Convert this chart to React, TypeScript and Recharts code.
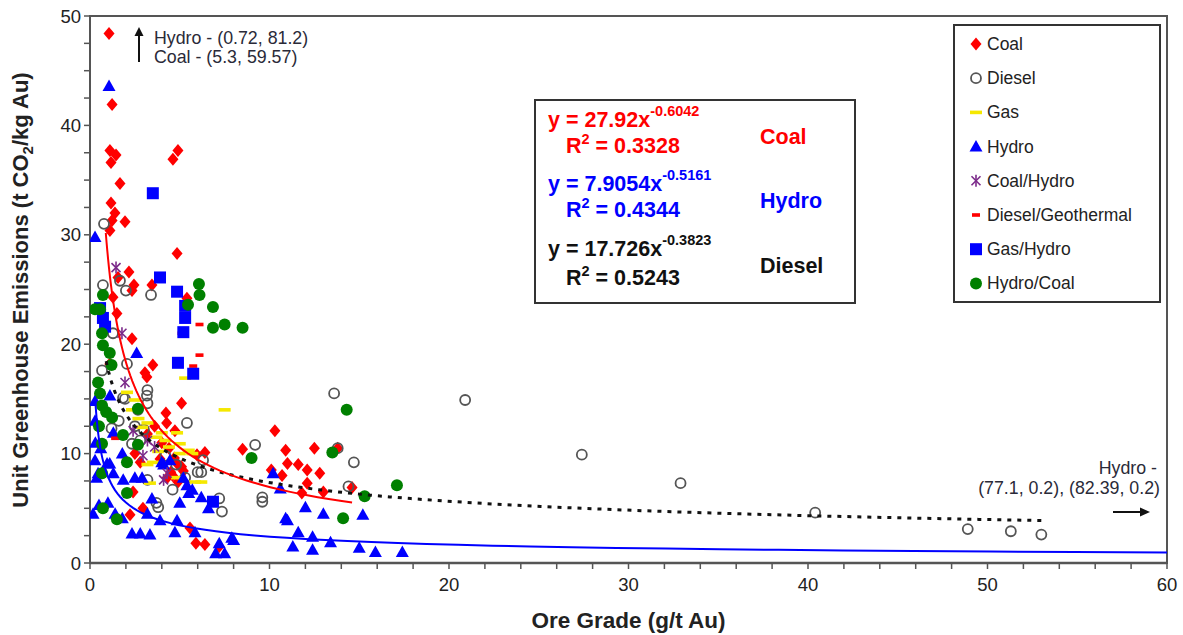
import React from 'react'
import { ScatterChart, Scatter, XAxis, YAxis, ReferenceArea, Label } from 'recharts'

type Pt = [number, number]

// ore grade (g/t Au), unit emissions (t CO2/kg Au)
const coal: Pt[] = [
  [1.06, 48.4], [1.23, 41.9], [1.11, 37.7], [1.45, 37.3], [1.17, 36.6], [1.67, 34.7], [1.17, 32.9],
  [1.39, 32.0], [1.95, 31.2], [1.23, 31.3], [1.11, 30.4], [4.62, 36.9], [4.9, 37.7], [4.85, 28.3],
  [2.17, 26.6], [2.45, 25.4], [2.34, 24.9], [3.45, 25.4], [1.28, 24.3], [5.4, 24.2], [1.56, 26.1],
  [1.5, 22.8], [2.34, 20.5], [1.1, 18.2], [3.06, 17.4], [3.5, 18.1], [3.17, 17.0], [5.1, 14.6],
  [4.23, 13.7], [4.73, 12.1], [4.27, 12.8], [6.4, 10.1], [5.96, 9.9], [2.5, 10.0], [2.23, 4.4],
  [2.95, 5.0], [5.57, 3.2], [5.9, 1.8], [6.4, 1.7], [7.2, 1.5], [8.5, 10.4], [10.3, 12.1],
  [10.9, 10.3], [11.0, 9.1], [10.1, 8.5], [10.7, 8.0], [11.6, 9.0], [12.1, 8.5], [12.5, 10.5],
  [12.8, 8.2], [12.1, 7.3], [11.8, 6.4], [13.0, 6.5], [13.8, 10.5], [14.6, 6.9], [2.4, 6.5],
  [3.6, 12.5], [4.0, 11.0], [4.4, 10.5], [3.2, 11.8], [4.9, 9.0], [5.2, 8.4], [4.6, 8.0],
  [2.8, 9.2], [3.9, 9.5], [4.5, 8.3], [4.9, 7.4], [4.3, 7.8], [5.1, 8.8], [4.7, 9.6],
]

const diesel: Pt[] = [
  [0.78, 31.0], [0.72, 25.4], [1.67, 25.8], [2.0, 24.9], [3.4, 24.5], [0.67, 17.6], [2.06, 18.2],
  [1.28, 21.0], [3.2, 15.8], [1.95, 15.0], [3.2, 14.6], [5.4, 12.8], [2.67, 14.0], [3.17, 15.3],
  [1.84, 15.1], [2.34, 10.9], [6.2, 8.3], [6.3, 9.4], [3.2, 7.6], [4.6, 6.7], [3.8, 5.1],
  [7.2, 5.9], [7.35, 4.7], [9.6, 6.0], [9.6, 5.6], [9.2, 10.8], [13.6, 15.5], [14.7, 9.2],
  [14.4, 7.0], [13.8, 10.5], [2.8, 11.2], [3.7, 5.5], [6.0, 8.3], [20.9, 14.9], [27.4, 9.9],
  [32.9, 7.3], [40.4, 4.6], [48.9, 3.1], [51.3, 2.9], [53.0, 2.6], [3.0, 12.2], [4.2, 9.8],
  [4.8, 9.0], [5.3, 7.8], [2.5, 12.5], [1.6, 13.0], [1.2, 12.3],
]

const gas: Pt[] = [
  [2.06, 15.6], [2.5, 14.9], [2.34, 14.0], [3.2, 12.8], [2.9, 12.4], [4.0, 11.9], [3.7, 11.5],
  [4.2, 11.2], [4.85, 11.9], [5.0, 10.9], [5.5, 10.3], [5.0, 10.0], [5.7, 10.0], [3.5, 9.2],
  [3.2, 9.0], [4.85, 7.8], [5.85, 7.4], [6.2, 7.4], [3.34, 7.3], [5.3, 16.9], [7.5, 14.0],
  [4.4, 10.6], [3.8, 10.2], [2.7, 13.2],
]

const hydro: Pt[] = [
  [1.06, 43.6], [0.28, 29.8], [2.6, 19.2], [1.11, 15.3], [0.28, 13.0], [1.3, 11.9], [0.28, 9.4],
  [0.95, 9.1], [1.8, 10.0], [0.37, 7.8], [1.3, 8.2], [1.85, 7.6], [2.5, 7.8], [2.9, 7.8],
  [0.17, 4.5], [1.4, 4.5], [1.8, 4.1], [2.34, 2.7], [2.8, 2.7], [3.34, 2.6], [3.2, 4.5],
  [3.45, 5.9], [3.9, 3.9], [4.73, 2.8], [4.85, 3.9], [5.85, 2.8], [7.0, 0.9], [7.5, 0.9],
  [7.2, 1.8], [7.9, 2.3], [5.2, 7.8], [5.4, 7.1], [5.5, 6.4], [4.45, 9.4], [4.1, 9.0],
  [0.45, 8.2], [1.1, 9.1], [5.7, 6.7], [4.0, 9.2], [0.28, 14.8], [0.3, 11.0], [0.6, 10.5],
  [0.5, 5.3], [1.0, 5.5], [10.9, 4.1], [10.2, 8.2], [10.6, 6.8], [12.0, 5.1], [13.0, 4.5],
  [11.6, 2.8], [12.4, 2.4], [11.3, 1.5], [12.4, 1.2], [13.4, 1.9], [15.0, 1.4], [15.2, 4.4],
  [15.9, 1.0], [17.4, 1.0], [11.0, 3.9], [8.0, 2.1], [6.6, 5.0], [6.2, 6.0], [5.0, 5.5],
]

const coalHydro: Pt[] = [
  [1.45, 27.0], [1.78, 21.0], [1.95, 16.5], [3.2, 11.2], [2.95, 9.8], [4.1, 7.6], [2.4, 12.1],
  [3.6, 10.6], [4.3, 8.2],
]

const dieselGeo: Pt[] = [[6.1, 21.8], [6.1, 19.0], [5.1, 21.0], [5.75, 18.0], [1.4, 11.4]]

const gasHydro: Pt[] = [
  [3.5, 33.8], [3.9, 26.1], [4.85, 24.8], [0.72, 22.4], [0.56, 23.3], [5.3, 23.5], [5.3, 22.4],
  [5.2, 21.1], [4.9, 18.3], [5.75, 17.3], [6.85, 5.6], [0.84, 21.6],
]

const hydroCoal: Pt[] = [
  [6.07, 25.5], [6.1, 24.5], [0.72, 24.5], [5.46, 23.6], [6.85, 23.4], [0.56, 23.2], [0.28, 23.2],
  [6.85, 21.5], [7.5, 21.8], [8.5, 21.5], [0.67, 21.0], [0.72, 19.9], [1.1, 19.2], [1.2, 18.1],
  [0.45, 16.5], [0.56, 15.5], [0.67, 14.4], [1.23, 13.3], [2.67, 14.1], [1.84, 11.7], [2.67, 10.8],
  [0.67, 10.9], [2.06, 9.2], [0.67, 8.2], [2.06, 6.4], [0.72, 5.0], [1.5, 4.0], [9.0, 9.6],
  [13.5, 10.1], [14.3, 14.0], [14.1, 4.1], [15.3, 6.1], [17.1, 7.1], [0.5, 12.5], [0.9, 13.8],
]

const xTicks = [0, 2, 4, 6, 8, 10, 12, 14, 16, 18, 20, 22, 24, 26, 28, 30, 32, 34, 36, 38, 40, 42, 44, 46, 48, 50, 52, 54, 56, 58, 60]
const yTicks = [0, 2.5, 5, 7.5, 10, 12.5, 15, 17.5, 20, 22.5, 25, 27.5, 30, 32.5, 35, 37.5, 40, 42.5, 45, 47.5, 50]

// power-law trendlines y = a * x^b, with the x span each one covers
const coalFit = { name: 'Coal', a: 27.92, b: -0.6042, r2: 0.3328, from: 0.88, to: 14.6 }
const hydroFit = { name: 'Hydro', a: 7.9054, b: -0.5161, r2: 0.4344, from: 0.28, to: 60 }
const dieselFit = { name: 'Diesel', a: 17.726, b: -0.3823, r2: 0.5243, from: 0.9, to: 53 }

const RED = '#ff0000'
const BLUE = '#0000ff'
const GREEN = '#008000'
const FONT = 'Arial, "Liberation Sans", Helvetica, sans-serif'

const toPoints = (pts: Pt[]) => pts.map(([x, y]) => ({ x, y }))

const fitCurve = (f: typeof coalFit) => {
  const n = 60
  return Array.from({ length: n + 1 }, (_, i) => {
    const x = f.from * Math.pow(f.to / f.from, i / n)
    return { x, y: f.a * Math.pow(x, f.b) }
  })
}

type Mark = (cx: number, cy: number) => React.ReactElement

const coalMark: Mark = (cx, cy) => (
  <path d={`M${cx} ${cy - 6.5}L${cx + 5.5} ${cy}L${cx} ${cy + 6.5}L${cx - 5.5} ${cy}Z`} fill={RED} />
)
const dieselMark: Mark = (cx, cy) => (
  <circle cx={cx} cy={cy} r={5} fill="none" stroke="#555" strokeWidth={1.8} />
)
const gasMark: Mark = (cx, cy) => <rect x={cx - 6} y={cy - 1.8} width={12} height={3.6} fill="#f5e800" />
const hydroMark: Mark = (cx, cy) => (
  <path d={`M${cx} ${cy - 6.5}L${cx + 6.5} ${cy + 5}L${cx - 6.5} ${cy + 5}Z`} fill={BLUE} />
)
const coalHydroMark: Mark = (cx, cy) => (
  <g stroke="#7b2a8a" strokeWidth={1.6}>
    <line x1={cx - 4.5} y1={cy - 4.5} x2={cx + 4.5} y2={cy + 4.5} />
    <line x1={cx - 4.5} y1={cy + 4.5} x2={cx + 4.5} y2={cy - 4.5} />
    <line x1={cx} y1={cy - 6} x2={cx} y2={cy + 6} />
  </g>
)
const dieselGeoMark: Mark = (cx, cy) => <rect x={cx - 4} y={cy - 1.8} width={8} height={3.6} fill={RED} />
const gasHydroMark: Mark = (cx, cy) => <rect x={cx - 6} y={cy - 6} width={12} height={12} fill={BLUE} />
const hydroCoalMark: Mark = (cx, cy) => <circle cx={cx} cy={cy} r={6} fill={GREEN} />

const series: { name: string; data: Pt[]; mark: Mark }[] = [
  { name: 'Coal', data: coal, mark: coalMark },
  { name: 'Diesel', data: diesel, mark: dieselMark },
  { name: 'Gas', data: gas, mark: gasMark },
  { name: 'Hydro', data: hydro, mark: hydroMark },
  { name: 'Coal/Hydro', data: coalHydro, mark: coalHydroMark },
  { name: 'Diesel/Geothermal', data: dieselGeo, mark: dieselGeoMark },
  { name: 'Gas/Hydro', data: gasHydro, mark: gasHydroMark },
  { name: 'Hydro/Coal', data: hydroCoal, mark: hydroCoalMark },
]

const noMark = () => <g />

function Equation({ fit, color, y, gap }: { fit: typeof coalFit; color: string; y: number; gap: number }) {
  return (
    <g fill={color} fontWeight="bold" fontFamily={FONT}>
      <text x={548} y={y} fontSize={21.5}>
        {`y = ${fit.a}x`}
        <tspan fontSize={14.5} dy={-11}>{String(fit.b)}</tspan>
      </text>
      <text x={566} y={y + gap} fontSize={21.5}>
        R<tspan fontSize={14.5} dy={-9}>2</tspan>
        <tspan dy={9}>{` = ${fit.r2}`}</tspan>
      </text>
      <text x={760} y={y + 17} fontSize={21.5}>{fit.name}</text>
    </g>
  )
}

function Overlay() {
  return (
    <svg width={1183} height={635} style={{ position: 'absolute', left: 0, top: 0, pointerEvents: 'none' }}>
      <text
        transform="translate(28,290) rotate(-90)"
        textAnchor="middle"
        fontFamily={FONT}
        fontWeight="bold"
        fontSize={22}
        fill="#222"
      >
        Unit Greenhouse Emissions (t CO<tspan fontSize={15} dy={5}>2</tspan>
        <tspan dy={-5}>/kg Au)</tspan>
      </text>

      {/* off-scale points noted at the top */}
      <line x1={139} y1={62} x2={139} y2={34} stroke="#111" strokeWidth={2} />
      <path d="M139 27L134.5 36L143.5 36Z" fill="#111" />
      <g fontFamily={FONT} fontSize={17.8} fill="#2a2a38">
        <text x={154} y={44}>Hydro - (0.72, 81.2)</text>
        <text x={154} y={63}>Coal - (5.3, 59.57)</text>
        <text x={1157} y={474} textAnchor="end">Hydro -</text>
        <text x={1160} y={494} textAnchor="end">(77.1, 0.2), (82.39, 0.2)</text>
      </g>
      <line x1={1113} y1={512} x2={1141} y2={512} stroke="#111" strokeWidth={2} />
      <path d="M1150 512L1140 507.5L1140 516.5Z" fill="#111" />

      {/* trendline equations */}
      <rect x={535} y={100} width={320} height={203} fill="#fff" stroke="#333" strokeWidth={2} />
      <Equation fit={coalFit} color={RED} y={127} gap={26} />
      <Equation fit={hydroFit} color={BLUE} y={191} gap={26} />
      <Equation fit={dieselFit} color="#111" y={256} gap={29} />

      {/* legend */}
      <rect x={954} y={25} width={206} height={277} fill="#fff" stroke="#333" strokeWidth={2} />
      {series.map((s, i) => {
        const cy = 44 + i * 34.2
        return (
          <g key={s.name}>
            {s.mark(976, cy)}
            <text x={987} y={cy + 6} fontFamily={FONT} fontSize={17.5} fill="#222">
              {s.name}
            </text>
          </g>
        )
      })}
    </svg>
  )
}

export default function App() {
  return (
    <div style={{ position: 'relative', width: 1183, height: 635, background: '#fff', fontFamily: FONT }}>
      <style>{'body{margin:0}'}</style>
      <ScatterChart width={1183} height={635} margin={{ top: 16, right: 16, bottom: 0, left: 0 }}>
        <ReferenceArea x1={0} x2={60} y1={0} y2={50} fill="none" stroke="#555" strokeWidth={2} ifOverflow="visible" />
        <XAxis
          type="number"
          dataKey="x"
          domain={[0, 60]}
          ticks={xTicks}
          interval={0}
          allowDataOverflow
          height={72}
          tickFormatter={(v: number) => (v % 10 === 0 ? String(v) : '')}
          tick={{ fontSize: 18.5, fill: '#222', fontFamily: FONT }}
          tickSize={6}
          tickMargin={9}
          axisLine={{ stroke: '#555', strokeWidth: 2.5 }}
          tickLine={{ stroke: '#555', strokeWidth: 1.5 }}
        >
          <Label
            value="Ore Grade (g/t Au)"
            position="insideBottom"
            offset={7}
            style={{ fontSize: 22.5, fontWeight: 'bold', fill: '#222', fontFamily: FONT }}
          />
        </XAxis>
        <YAxis
          type="number"
          dataKey="y"
          domain={[0, 50]}
          ticks={yTicks}
          interval={0}
          allowDataOverflow
          width={90}
          tickFormatter={(v: number) => (v % 10 === 0 ? String(v) : '')}
          tick={{ fontSize: 18.5, fill: '#222', fontFamily: FONT }}
          tickSize={6}
          tickMargin={3}
          axisLine={{ stroke: '#555', strokeWidth: 2 }}
          tickLine={{ stroke: '#555', strokeWidth: 1.5 }}
        />
        {series.map(s => (
          <Scatter
            key={s.name}
            name={s.name}
            data={toPoints(s.data)}
            shape={(p: any) => s.mark(p.cx, p.cy)}
            isAnimationActive={false}
          />
        ))}
        <Scatter
          data={fitCurve(dieselFit)}
          shape={noMark}
          line={{ stroke: '#111', strokeWidth: 3, strokeDasharray: '4 6' }}
          isAnimationActive={false}
        />
        <Scatter
          data={fitCurve(coalFit)}
          shape={noMark}
          line={{ stroke: RED, strokeWidth: 2 }}
          isAnimationActive={false}
        />
        <Scatter
          data={fitCurve(hydroFit)}
          shape={noMark}
          line={{ stroke: BLUE, strokeWidth: 2 }}
          isAnimationActive={false}
        />
      </ScatterChart>
      <Overlay />
    </div>
  )
}
